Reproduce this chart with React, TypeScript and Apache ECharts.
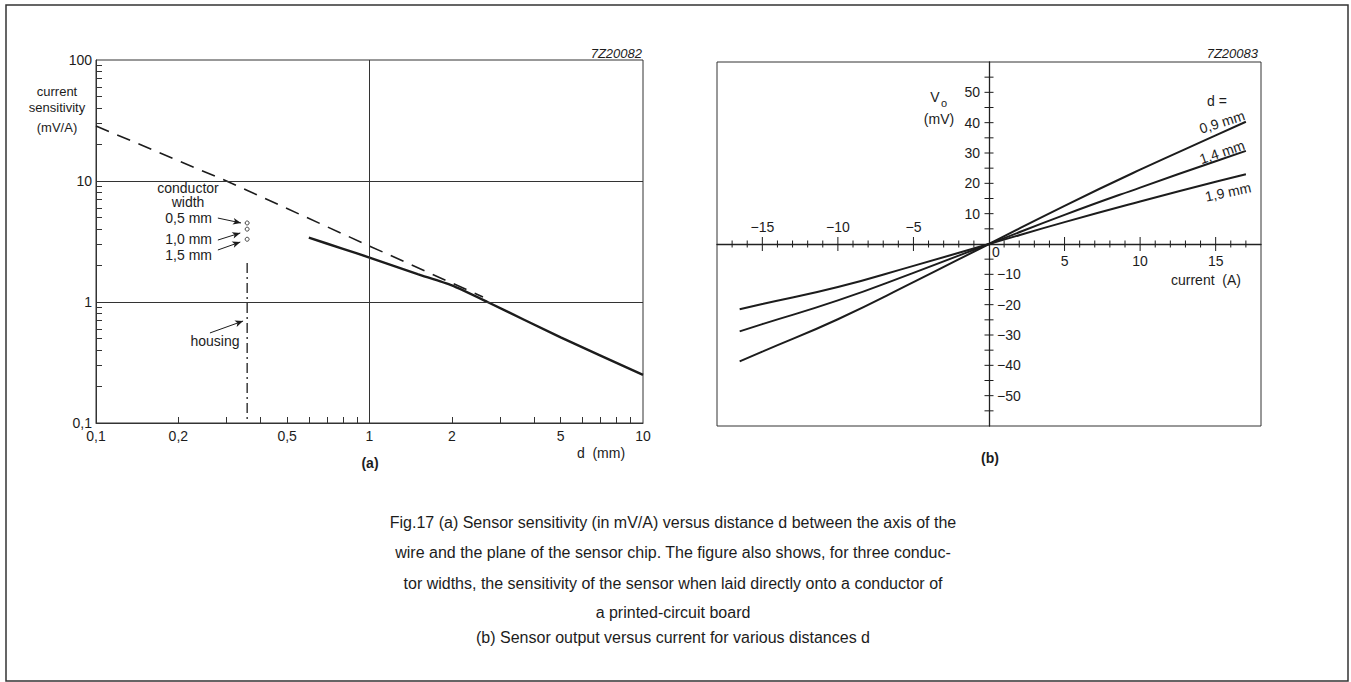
import React, { useEffect, useRef } from "react";
import * as echarts from "echarts";

// ---------- (a) sensitivity vs distance ----------
const distLabelValues = [0.1, 0.2, 0.5, 1, 2, 5, 10];
const distMinorTicks = [0.2, 0.3, 0.4, 0.5, 0.6, 0.7, 0.8, 0.9, 2, 3, 4, 5, 6, 7, 8, 9];
const sensLabelValues = [0.1, 1, 10, 100];
const sensMinorTicks = [0.2, 0.3, 0.4, 0.5, 0.6, 0.7, 0.8, 0.9, 2, 3, 4, 5, 6, 7, 8, 9, 20, 30, 40, 50, 60, 70, 80, 90];
const sensGridValues = [1, 10];
const distGridValues = [1];

const dashedDist = [0.1, 0.3, 1, 2.6];
const dashedSens = [28.5, 10, 2.9, 1.1];
const solidDist = [0.6, 0.8, 1, 1.5, 2, 2.7, 5, 10];
const solidSens = [3.4, 2.75, 2.33, 1.7, 1.37, 1.0, 0.51, 0.25];
const conductorDist = [0.357, 0.357, 0.357];
const conductorSens = [4.5, 4.0, 3.3];
const housingDist = [0.357, 0.357];
const housingSens = [2.1, 0.1];
const arrowFrom = [[0.279, 4.94], [0.279, 3.25], [0.279, 2.69], [0.261, 0.555]];
const arrowTo = [[0.339, 4.5], [0.337, 3.72], [0.337, 3.13], [0.345, 0.696]];

// ---------- (b) output vs current ----------
const currentA = [-16.5, -15, -10, -5, 0, 5, 10, 15, 17];
const vo09 = [-38.7, -35.5, -24.8, -12.6, 0, 12.6, 24.5, 35.8, 40.3];
const vo14 = [-28.8, -26.4, -18.6, -9.5, 0, 9.6, 18.6, 27.3, 30.7];
const vo19 = [-21.5, -19.8, -14.2, -7.2, 0, 7.2, 14.0, 20.5, 23.0];
const currentMajorTicks = [-15, -10, -5, 5, 10, 15];
const currentMinorTicks = [-17, -16, -14, -13, -12, -11, -9, -8, -7, -6, -4, -3, -2, -1, 1, 2, 3, 4, 6, 7, 8, 9, 11, 12, 13, 14, 16, 17];
const voTicks = [-55, -50, -45, -40, -35, -30, -25, -20, -15, -10, -5, 5, 10, 15, 20, 25, 30, 35, 40, 45, 50, 55];
const currentPosLabels = [5, 10, 15];
const currentNegLabels = [-15, -10, -5];
const voPosLabels = [10, 20, 30, 40, 50];
const voNegLabels = [-10, -20, -30, -40, -50];

const FONT = '"Liberation Sans", Arial, Helvetica, sans-serif';
const INK = "#1c1c1c";
const TICK_FONT = 14;

const GRID_B = { left: 717, top: 62, width: 544, height: 364 };

const zip = (a: number[], b: number[]) => a.map((v, i) => [v, b[i]]);
const fmtComma = (v: number) => String(Number(Number(v).toPrecision(4))).replace(".", ",");
const fmtMinus = (v: number) => (v < 0 ? "\u2212" + String(Math.abs(v)) : String(v));

function txt(text: string, x: number, y: number, opts: any = {}) {
  return {
    type: "text",
    x,
    y,
    rotation: opts.rotation || 0,
    silent: true,
    style: {
      text,
      fill: INK,
      fontSize: opts.size || 14,
      fontFamily: FONT,
      fontStyle: opts.italic ? "italic" : "normal",
      fontWeight: opts.bold ? "bold" : "normal",
      textAlign: opts.align || "center",
      textVerticalAlign: "middle",
      align: opts.align || "center",
      verticalAlign: "middle",
    },
  };
}

export default function App() {
  const ref = useRef<HTMLDivElement>(null);

  useEffect(() => {
    document.body.style.margin = "0";
    document.body.style.background = "#ffffff";
    const chart = echarts.init(ref.current!, null, { renderer: "svg" });

    const tickItem = (v: number, major: number) => [v, major];
    // axes of (b) cross at the middle of the symmetric ranges
    const xOff = -GRID_B.height / 2;
    const yOff = -GRID_B.width / 2;
    const lbl = { color: INK, fontSize: TICK_FONT, fontFamily: FONT };

    const option: any = {
      animation: false,
      backgroundColor: "#ffffff",
      grid: [
        { left: 96, top: 60, width: 547, height: 363, show: true, borderColor: "#333", borderWidth: 1, backgroundColor: "transparent" },
        { ...GRID_B, show: true, borderColor: "#333", borderWidth: 1, backgroundColor: "transparent" },
      ],
      xAxis: [
        {
          type: "log", logBase: 10, min: 0.1, max: 10, gridIndex: 0, position: "bottom",
          axisLine: { show: true, lineStyle: { color: "#333", width: 1 } },
          axisTick: { show: true, inside: true, length: 6, customValues: distMinorTicks, lineStyle: { color: "#333" } },
          axisLabel: { ...lbl, customValues: distLabelValues, formatter: fmtComma, margin: 6 },
          splitLine: { show: false },
        },
        {
          type: "value", min: -18, max: 18, gridIndex: 1, position: "bottom", offset: xOff,
          axisLine: { show: true, onZero: false, lineStyle: { color: "#222", width: 1.3 } },
          axisTick: { show: false },
          axisLabel: { ...lbl, customValues: currentPosLabels, formatter: fmtMinus, margin: 10 },
          splitLine: { show: false },
        },
        {
          type: "value", min: -18, max: 18, gridIndex: 1, position: "bottom", offset: xOff,
          axisLine: { show: false, onZero: false },
          axisTick: { show: false },
          axisLabel: { ...lbl, inside: true, customValues: currentNegLabels, formatter: fmtMinus, margin: 10 },
          splitLine: { show: false },
        },
      ],
      yAxis: [
        {
          type: "log", logBase: 10, min: 0.1, max: 100, gridIndex: 0, position: "left",
          axisLine: { show: true, lineStyle: { color: "#333", width: 1 } },
          axisTick: { show: true, inside: true, length: 6, customValues: sensMinorTicks, lineStyle: { color: "#333" } },
          axisLabel: { ...lbl, customValues: sensLabelValues, formatter: fmtComma, margin: 4 },
          splitLine: { show: false },
        },
        {
          type: "value", min: -60, max: 60, gridIndex: 1, position: "left", offset: yOff,
          axisLine: { show: true, onZero: false, lineStyle: { color: "#222", width: 1.3 } },
          axisTick: { show: false },
          axisLabel: { ...lbl, customValues: voPosLabels, formatter: fmtMinus, margin: 9 },
          splitLine: { show: false },
        },
        {
          type: "value", min: -60, max: 60, gridIndex: 1, position: "left", offset: yOff,
          axisLine: { show: false, onZero: false },
          axisTick: { show: false },
          axisLabel: { ...lbl, inside: true, customValues: voNegLabels, formatter: fmtMinus, margin: 8 },
          splitLine: { show: false },
        },
      ],
      series: [
        {
          name: "ideal", type: "line", xAxisIndex: 0, yAxisIndex: 0, symbol: "none", silent: true,
          data: zip(dashedDist, dashedSens),
          lineStyle: { color: INK, width: 1.6, type: [14, 9] },
        },
        {
          name: "sensitivity", type: "line", xAxisIndex: 0, yAxisIndex: 0, symbol: "none", silent: true, smooth: 0.2,
          data: zip(solidDist, solidSens),
          lineStyle: { color: INK, width: 2.4 },
          markLine: {
            silent: true, symbol: "none", label: { show: false },
            lineStyle: { color: "#333", width: 1, type: "solid" },
            data: [
              ...sensGridValues.map((v) => ({ yAxis: v })),
              ...distGridValues.map((v) => ({ xAxis: v })),
            ],
          },
        },
        {
          name: "conductor", type: "scatter", xAxisIndex: 0, yAxisIndex: 0, silent: true,
          symbol: "circle", symbolSize: 4,
          itemStyle: { color: "#ffffff", borderColor: INK, borderWidth: 1 },
          data: zip(conductorDist, conductorSens),
          markLine: {
            silent: true, symbol: ["none", "arrow"], symbolSize: [5, 8], label: { show: false },
            lineStyle: { color: INK, width: 1, type: "solid" },
            data: arrowFrom.map((p, i) => [{ coord: p }, { coord: arrowTo[i] }]),
          },
        },
        {
          name: "housing", type: "line", xAxisIndex: 0, yAxisIndex: 0, symbol: "none", silent: true,
          data: zip(housingDist, housingSens),
          lineStyle: { color: INK, width: 1.3, type: [10, 4, 2, 4] },
        },
        {
          name: "d=0.9", type: "line", xAxisIndex: 1, yAxisIndex: 1, symbol: "none", smooth: true, silent: true,
          data: zip(currentA, vo09), lineStyle: { color: INK, width: 2 },
        },
        {
          name: "d=1.4", type: "line", xAxisIndex: 1, yAxisIndex: 1, symbol: "none", smooth: true, silent: true,
          data: zip(currentA, vo14), lineStyle: { color: INK, width: 2 },
        },
        {
          name: "d=1.9", type: "line", xAxisIndex: 1, yAxisIndex: 1, symbol: "none", smooth: true, silent: true,
          data: zip(currentA, vo19), lineStyle: { color: INK, width: 2 },
        },
        {
          name: "xticks", type: "custom", xAxisIndex: 1, yAxisIndex: 1, silent: true,
          data: [...currentMajorTicks.map((v) => tickItem(v, 1)), ...currentMinorTicks.map((v) => tickItem(v, 0))],
          renderItem: (params: any, api: any) => {
            const p = api.coord([api.value(0), 0]);
            const L = api.value(1) ? 7 : 3.5;
            return { type: "line", shape: { x1: p[0], y1: p[1] - L, x2: p[0], y2: p[1] + L }, style: { stroke: INK, lineWidth: 1 } };
          },
        },
        {
          name: "yticks", type: "custom", xAxisIndex: 1, yAxisIndex: 1, silent: true,
          data: voTicks.map((v) => [0, v]),
          renderItem: (params: any, api: any) => {
            const p = api.coord([0, api.value(1)]);
            const L = 4.5;
            return { type: "line", shape: { x1: p[0] - L, y1: p[1], x2: p[0] + L, y2: p[1] }, style: { stroke: INK, lineWidth: 1 } };
          },
        },
      ],
      graphic: [
        { type: "rect", silent: true, shape: { x: 6, y: 5, width: 1342, height: 676 }, style: { fill: "none", stroke: "#333", lineWidth: 1.5 } },
        // (a) annotations
        txt("7Z20082", 642, 53, { align: "right", italic: true, size: 13 }),
        txt("current", 57, 91, { size: 13 }),
        txt("sensitivity", 57, 107, { size: 13 }),
        txt("(mV/A)", 57, 127, { size: 13 }),
        txt("conductor", 188, 188),
        txt("width", 188, 202),
        txt("0,5 mm", 212, 218, { align: "right" }),
        txt("1,0 mm", 212, 239, { align: "right" }),
        txt("1,5 mm", 212, 255, { align: "right" }),
        txt("housing", 215, 341),
        txt("d  (mm)", 601, 453),
        txt("(a)", 370, 463, { bold: true }),
        // (b) annotations
        txt("7Z20083", 1258, 53, { align: "right", italic: true, size: 13 }),
        txt("V", 935, 97, { size: 14 }),
        txt("o", 944, 103, { size: 11 }),
        txt("(mV)", 939, 119),
        txt("d =", 1217, 101),
        txt("0,9 mm", 1222, 122, { rotation: 0.31 }),
        txt("1,4 mm", 1222, 152, { rotation: 0.33 }),
        txt("1,9 mm", 1228, 192, { rotation: 0.21 }),
        txt("0", 996, 252),
        txt("current  (A)", 1206, 280),
        txt("(b)", 990, 458, { bold: true }),
        // caption
        txt("Fig.17 (a) Sensor sensitivity (in mV/A) versus distance d between the axis of the", 673, 522, { size: 16 }),
        txt("wire and the plane of the sensor chip. The figure also shows, for three conduc-", 673, 552, { size: 16 }),
        txt("tor widths, the sensitivity of the sensor when laid directly onto a conductor of", 673, 583, { size: 16 }),
        txt("a printed-circuit board", 673, 612, { size: 16 }),
        txt("(b) Sensor output versus current for various distances d", 673, 637, { size: 16 }),
      ],
    };

    chart.setOption(option);
    return () => chart.dispose();
  }, []);

  return <div ref={ref} style={{ width: 1351, height: 682 }} />;
}
